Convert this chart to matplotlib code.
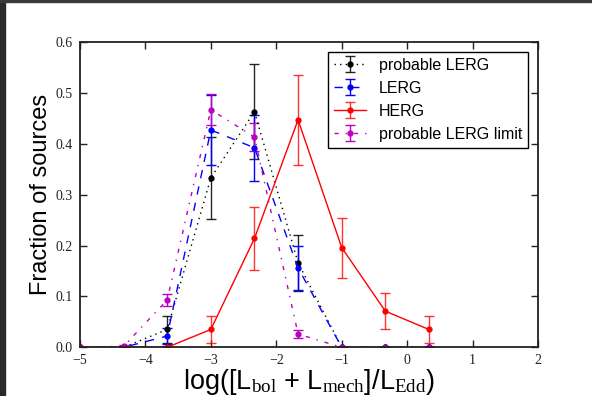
import numpy as np
import matplotlib
matplotlib.use('Agg')
import matplotlib.pyplot as plt
from matplotlib.patches import Rectangle

# bin positions in log([Lbol + Lmech]/LEdd)
eddRatio = [-5.0, -4.333, -3.667, -3.0, -2.333, -1.667, -1.0, -0.333, 0.333]

probLerg = [0.0, 0.0, 0.035, 0.333, 0.463, 0.166, 0.0, 0.0, 0.0]
probLergErr = [0.0, 0.0, 0.027, 0.080, 0.093, 0.055, 0.0, 0.0, 0.0]

lerg = [0.0, 0.0, 0.022, 0.427, 0.392, 0.156, 0.0, 0.0, 0.0]
lergErr = [0.0, 0.0, 0.015, 0.069, 0.065, 0.043, 0.0, 0.0, 0.0]

herg = [0.0, 0.0, 0.0, 0.035, 0.214, 0.447, 0.196, 0.071, 0.035]
hergErr = [0.0, 0.0, 0.0, 0.026, 0.062, 0.089, 0.059, 0.036, 0.026]

probLergLimit = [0.0, 0.002, 0.093, 0.467, 0.413, 0.026, 0.0, 0.0, 0.0]
probLergLimitErr = [0.0, 0.002, 0.012, 0.030, 0.027, 0.008, 0.0, 0.0, 0.0]

plt.rcParams['mathtext.fontset'] = 'custom'
plt.rcParams['mathtext.rm'] = 'Liberation Serif'
plt.rcParams['mathtext.it'] = 'Liberation Serif:italic'

fig = plt.figure(figsize=(5.92, 3.96), dpi=100)
ax = fig.add_axes([0.1351, 0.123, 0.7737, 0.771])

# old-style dash patterns
series = [
    (probLerg, probLergErr, 'k', (0, (1, 3)), 'probable LERG', 0.85),
    (lerg, lergErr, 'b', (0, (6, 6)), 'LERG', 1.0),
    (herg, hergErr, 'r', '-', 'HERG', 0.8),
    (probLergLimit, probLergLimitErr, (0.75, 0, 0.75), (0, (3, 5, 1, 5)), 'probable LERG limit', 1.0),
]
for vals, errs, col, ls, lab, ealpha in series:
    line, caps, bars = ax.errorbar(eddRatio, vals, yerr=errs, color=col, ls=ls, lw=1.0,
                                   marker='o', ms=3.5, mec=col, capsize=3.5, elinewidth=1.0,
                                   label=lab)
    for b in bars:
        b.set_alpha(ealpha)
    for c in caps:
        c.set_alpha(ealpha)
        c.set_markeredgewidth(1.0)

ax.set_xlim(-5, 2)
ax.set_ylim(0, 0.6)
ax.set_xticks(np.arange(-5, 3, 1))
ax.set_yticks(np.arange(0, 0.61, 0.1))
ax.set_yticklabels(['0.0', '0.1', '0.2', '0.3', '0.4', '0.5', '0.6'])
ax.set_xticklabels(['\u22125', '\u22124', '\u22123', '\u22122', '\u22121', '0', '1', '2'])
ax.tick_params(direction='in', length=5, width=1, top=True, right=True, pad=5,
               labelsize=10, colors='#222222')
for lbl in ax.get_xticklabels() + ax.get_yticklabels():
    lbl.set_family('Liberation Serif')
for sp in ax.spines.values():
    sp.set_linewidth(1.3)
    sp.set_color('#222222')

ax.set_ylabel('Fraction of sources', fontsize=17, family='Liberation Sans', labelpad=3)
ax.set_xlabel(r'log([L$_{\rm bol}$ + L$_{\rm mech}$]/L$_{\rm Edd}$)', fontsize=19.5,
              family='Liberation Sans', labelpad=0)

leg = ax.legend(loc='upper right', numpoints=1, fancybox=False,
                handlelength=2.0, handletextpad=0.8, borderpad=0.4, labelspacing=0.5,
                borderaxespad=0.6, prop={'family': 'Liberation Sans', 'size': 11.5})
leg.get_frame().set_edgecolor('black')
leg.get_frame().set_linewidth(1.0)
leg.get_frame().set_alpha(1.0)

# dark edge along the left and top of the canvas
fig.patches.append(Rectangle((0, 0), 5 / 592, 1, transform=fig.transFigure,
                             color='#2a2a2a', zorder=10))
fig.patches.append(Rectangle((0, 1 - 2 / 396), 1, 2 / 396, transform=fig.transFigure,
                             color='#3a3a3a', zorder=10))

fig.savefig('out.png', dpi=100)
